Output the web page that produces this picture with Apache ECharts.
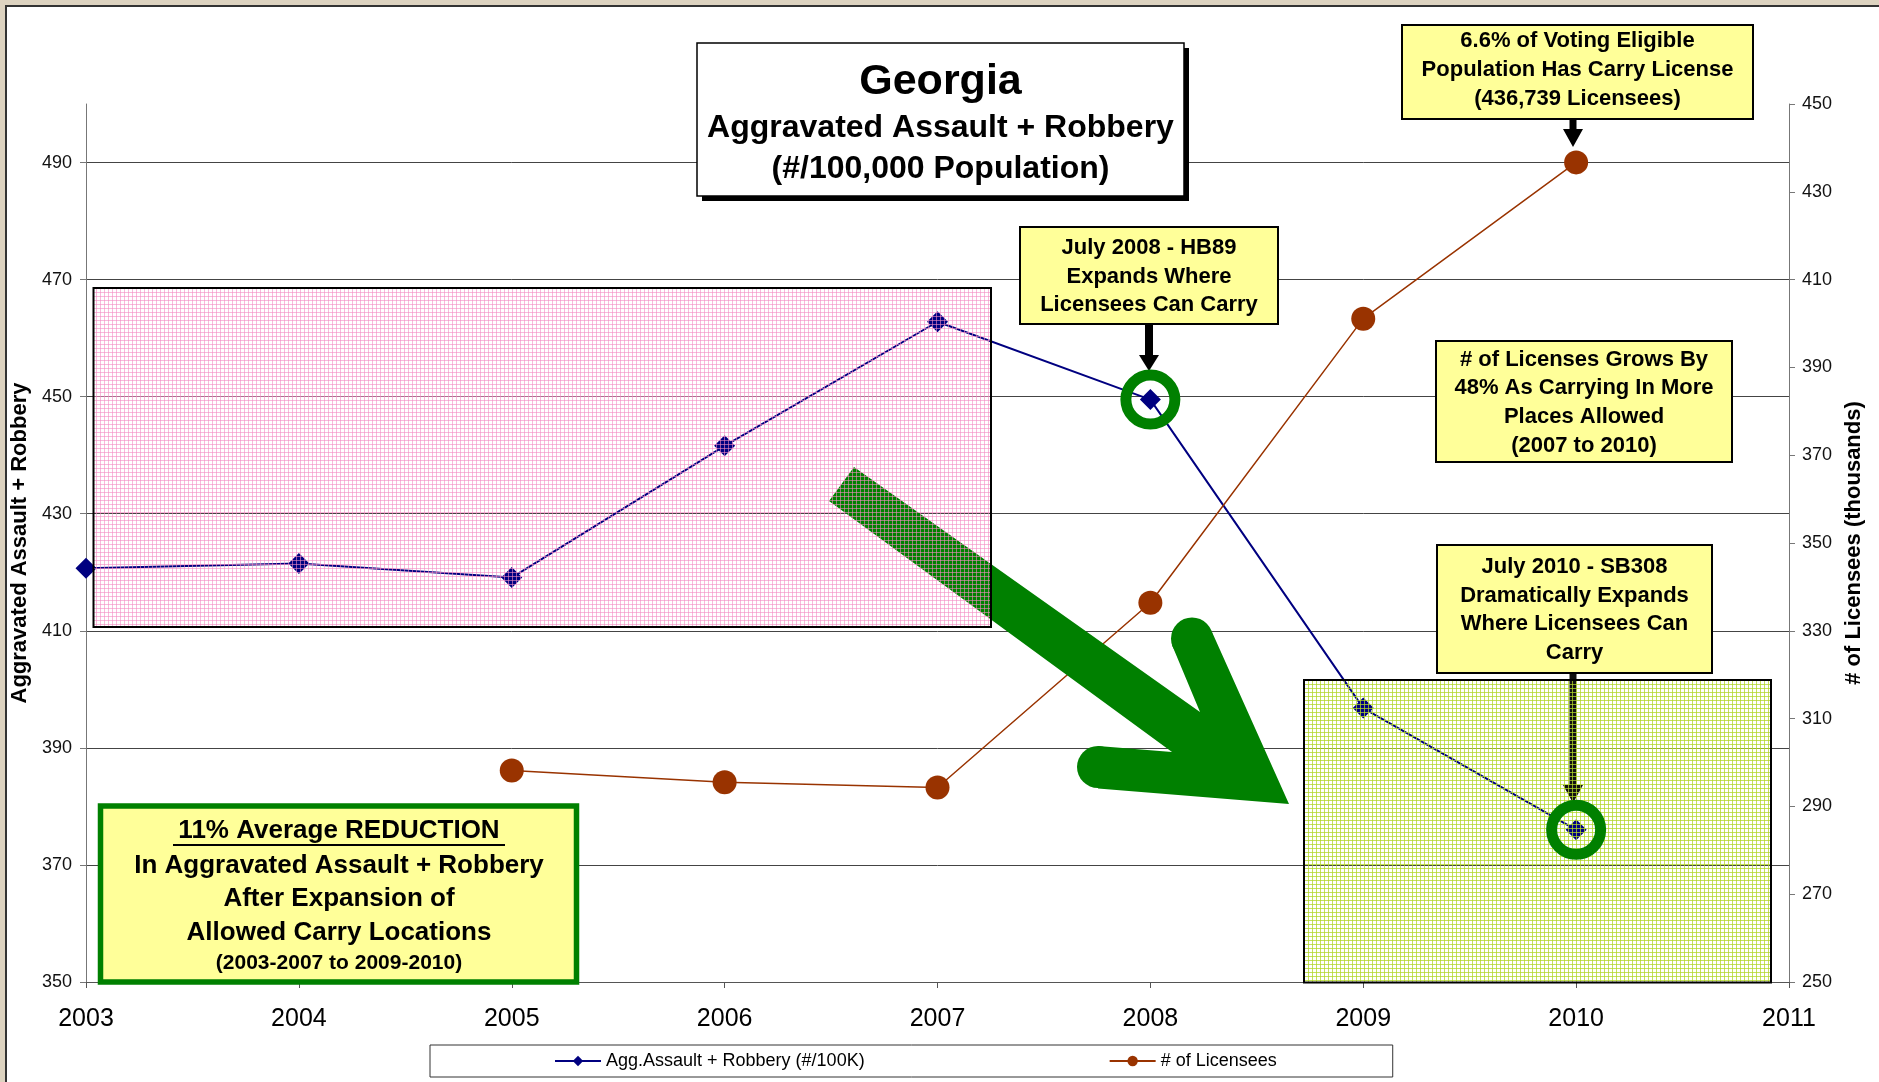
<!DOCTYPE html>
<html>
<head>
<meta charset="utf-8">
<title>Georgia - Aggravated Assault + Robbery</title>
<script src="https://cdn.jsdelivr.net/npm/echarts@6/dist/echarts.min.js"></script>
<style>
  html, body { margin: 0; padding: 0; width: 1879px; height: 1082px; overflow: hidden; background: #ddd3c0; }
  #panel { position: absolute; left: 5px; top: 5px; right: 0; bottom: 0; background: #fff; border-left: 2px solid #333; border-top: 2px solid #333; }
  #chart { position: absolute; left: 0; top: 0; width: 1879px; height: 1082px; }
</style>
</head>
<body>
<div id="panel"></div>
<div id="chart"></div>
<script>
// x categories (the axis runs to 2011 with no data there)
const years = ['2003', '2004', '2005', '2006', '2007', '2008', '2009', '2010', '2011']

// Aggravated assault + robbery per 100K (left axis)
const assaultRate = [420.7, 421.5, 419.1, 441.6, 462.8, 449.5, 396.8, 376.0]

// Carry licensees in thousands (right axis), no values before 2005
const licensees = [null, null, 298.2, 295.5, 294.3, 336.4, 401.1, 436.7]

// axis ranges and tick step
const leftRange = [350, 500]
const rightRange = [250, 450]
const tickStep = 20

// points circled in green
const ringYears = ['2008', '2010']

const FONT = '"Liberation Sans", Arial, sans-serif'
const NAVY = '#000080'
const BROWN = '#993300'
const GREEN = '#008000'
const NOTE_FILL = '#ffff99'

const chart = echarts.init(document.getElementById('chart'))

/**
 * Small repeating grid used for the shaded boxes
 */
function makePattern(color) {
  const c = document.createElement('canvas')
  c.width = 4
  c.height = 4
  const g = c.getContext('2d')
  g.fillStyle = color
  g.fillRect(0, 0, 4, 1)
  g.fillRect(0, 0, 1, 4)
  return { image: c, repeat: 'repeat' }
}

function text(str, x, y, size, z, extra = {}) {
  return {
    type: 'text',
    x: x,
    y: y,
    z: z,
    style: Object.assign({
      text: str,
      fill: '#000',
      fontFamily: FONT,
      fontWeight: 'bold',
      fontSize: size,
      textAlign: 'center',
      textVerticalAlign: 'middle',
    }, extra),
  }
}

/**
 * Yellow note box with centred bold lines
 */
function note(x, y, w, h, lines, cy) {
  const step = 28.7
  const mid = (cy != null ? cy : y + h / 2) + 1
  const first = mid - ((lines.length - 1) * step) / 2
  const els = [{
    type: 'rect',
    z: 10,
    shape: { x: x, y: y, width: w, height: h },
    style: { fill: NOTE_FILL, stroke: '#000', lineWidth: 2 },
  }]
  lines.forEach((l, i) => {
    els.push(text(l, x + w / 2, first + i * step, 22, 11))
  })
  return els
}

function downArrow(x, yTop, yTip, sw, hw, hl, color) {
  return {
    type: 'polygon',
    z: 3,
    shape: {
      points: [
        [x - sw / 2, yTop], [x + sw / 2, yTop], [x + sw / 2, yTip - hl],
        [x + hw / 2, yTip - hl], [x, yTip], [x - hw / 2, yTip - hl],
        [x - sw / 2, yTip - hl],
      ],
    },
    style: { fill: color },
  }
}

const axisLabelStyle = { color: '#111', fontSize: 18, fontFamily: FONT }
const axisNameStyle = { color: '#000', fontSize: 22, fontWeight: 'bold', fontFamily: FONT }

chart.setOption({
  animation: false,
  grid: { left: 86, right: 90, top: 104, bottom: 100, containLabel: false },
  legend: {
    data: ['Agg.Assault + Robbery (#/100K)', '# of Licensees'],
    left: 430,
    top: 1045,
    padding: [7, 116, 7, 124],
    itemGap: 244,
    itemWidth: 46,
    itemHeight: 13,
    borderColor: '#333',
    borderWidth: 1,
    textStyle: { color: '#000', fontSize: 18, fontFamily: FONT },
  },
  xAxis: {
    type: 'category',
    data: years,
    boundaryGap: false,
    axisLine: { lineStyle: { color: '#555', width: 1 } },
    axisTick: { show: true, length: 6, lineStyle: { color: '#555' } },
    axisLabel: { color: '#000', fontSize: 25, fontFamily: FONT, margin: 25, interval: 0 },
    splitLine: { show: false },
  },
  yAxis: [
    {
      type: 'value',
      min: leftRange[0],
      max: leftRange[1],
      interval: tickStep,
      name: 'Aggravated Assault + Robbery',
      nameLocation: 'middle',
      nameGap: 47,
      nameRotate: 90,
      nameTextStyle: axisNameStyle,
      axisLine: { show: true, lineStyle: { color: '#777' } },
      axisTick: { show: true, length: 6, lineStyle: { color: '#777' } },
      axisLabel: Object.assign({ margin: 14, showMaxLabel: false }, axisLabelStyle),
      splitLine: { show: true, showMaxLine: false, lineStyle: { color: '#444', width: 1 } },
    },
    {
      type: 'value',
      position: 'right',
      min: rightRange[0],
      max: rightRange[1],
      interval: tickStep,
      name: '# of Licensees (thousands)',
      nameLocation: 'middle',
      nameGap: 52,
      nameRotate: 90,
      nameTextStyle: axisNameStyle,
      axisLine: { show: true, lineStyle: { color: '#777' } },
      axisTick: { show: true, length: 6, lineStyle: { color: '#777' } },
      axisLabel: Object.assign({ margin: 13 }, axisLabelStyle),
      splitLine: { show: false },
    },
  ],
  series: [
    {
      name: 'Agg.Assault + Robbery (#/100K)',
      type: 'line',
      yAxisIndex: 0,
      data: assaultRate,
      symbol: 'diamond',
      symbolSize: 21,
      color: NAVY,
      lineStyle: { color: NAVY, width: 2 },
      itemStyle: { color: NAVY },
      z: 2,
    },
    {
      name: '# of Licensees',
      type: 'line',
      yAxisIndex: 1,
      data: licensees,
      symbol: 'circle',
      symbolSize: 24,
      color: BROWN,
      lineStyle: { color: BROWN, width: 1.5 },
      itemStyle: { color: BROWN },
      z: 2,
    },
  ],
})

// rings are placed on the data points through the axes
const rings = ringYears.map(y => {
  const i = years.indexOf(y)
  const p = chart.convertToPixel({ xAxisIndex: 0, yAxisIndex: 0 }, [i, assaultRate[i]])
  return {
    type: 'circle',
    z: 5,
    shape: { cx: p[0], cy: p[1], r: 24.5 },
    style: { fill: null, stroke: GREEN, lineWidth: 11 },
  }
})

const graphics = [
  // shaded period boxes
  {
    type: 'rect', z: 4,
    shape: { x: 93.5, y: 288, width: 897.5, height: 339 },
    style: { fill: makePattern('rgba(243, 140, 195, 0.6)'), stroke: '#000', lineWidth: 2 },
  },
  {
    type: 'rect', z: 4,
    shape: { x: 1304, y: 680, width: 467, height: 302.5 },
    style: { fill: makePattern('rgba(176, 214, 40, 0.75)'), stroke: '#000', lineWidth: 2 },
  },
  // big green arrow
  {
    type: 'polygon', z: 3,
    shape: {
      points: [[854, 467], [1200, 712], [1172, 645], [1212, 632], [1289, 804],
        [1098, 788.5], [1098, 746], [1172, 752], [829, 501]],
    },
    style: { fill: GREEN },
  },
  { type: 'circle', z: 3, shape: { cx: 1192, cy: 638.5, r: 21 }, style: { fill: GREEN } },
  { type: 'circle', z: 3, shape: { cx: 1098, cy: 767, r: 21 }, style: { fill: GREEN } },
  // pointer arrows
  downArrow(1149, 324, 371, 8, 20, 16, '#000'),
  downArrow(1573, 119, 147, 7, 20, 18, '#000'),
  downArrow(1573, 673, 803, 7, 20, 18, '#111'),
  // title box
  { type: 'rect', z: 10, shape: { x: 702, y: 48, width: 487, height: 153 }, style: { fill: '#000' } },
  {
    type: 'rect', z: 10,
    shape: { x: 697, y: 43, width: 487, height: 153 },
    style: { fill: '#fff', stroke: '#000', lineWidth: 1.5 },
  },
  text('Georgia', 940.5, 82, 43, 11),
  text('Aggravated Assault + Robbery', 940.5, 128, 32, 11),
  text('(#/100,000 Population)', 940.5, 169, 32, 11),
  // notes
  ...note(1020, 227, 258, 97, ['July 2008 - HB89', 'Expands Where', 'Licensees Can Carry']),
  ...note(1402, 25, 351, 94, ['6.6% of Voting Eligible', 'Population Has Carry License', '(436,739 Licensees)'], 69),
  ...note(1436, 341, 296, 121, ['# of Licenses Grows By', '48% As Carrying In More', 'Places Allowed', '(2007 to 2010)']),
  ...note(1437, 545, 275, 128, ['July 2010 - SB308', 'Dramatically Expands', 'Where Licensees Can', 'Carry']),
  // reduction summary box
  {
    type: 'rect', z: 10,
    shape: { x: 100.5, y: 806, width: 476, height: 176 },
    style: { fill: NOTE_FILL, stroke: GREEN, lineWidth: 5.5 },
  },
  text('11% Average REDUCTION', 339, 831, 26, 11),
  { type: 'line', z: 11, shape: { x1: 173, y1: 845, x2: 505, y2: 845 }, style: { stroke: '#000', lineWidth: 2 } },
  text('In Aggravated Assault + Robbery', 339, 866, 26, 11),
  text('After Expansion of', 339, 899, 26, 11),
  text('Allowed Carry Locations', 339, 933, 26, 11),
  text('(2003-2007 to 2009-2010)', 339, 963, 21, 11),
  ...rings,
]

chart.setOption({ graphic: graphics })
</script>
</body>
</html>
